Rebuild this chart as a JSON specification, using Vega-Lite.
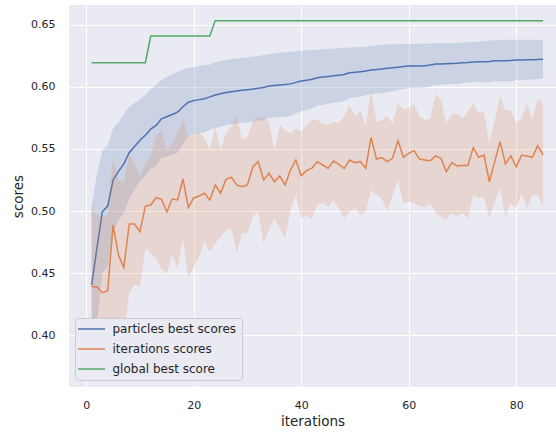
{
  "$schema": "https://vega.github.io/schema/vega-lite/v6.json",
  "autosize": {"type": "none"},
  "width": 487,
  "height": 382,
  "padding": {"left": 69, "top": 5, "right": 0, "bottom": 47},
  "background": "#ffffff",
  "config": {
    "view": {"fill": "#EAEAF2", "stroke": null},
    "font": "DejaVu Sans",
    "axis": {
      "domain": false,
      "ticks": false,
      "gridColor": "#ffffff",
      "gridWidth": 1,
      "gridOpacity": 1,
      "labelFont": "DejaVu Sans",
      "labelFontSize": 11,
      "labelColor": "#262626",
      "titleFont": "DejaVu Sans",
      "titleFontSize": 13.5,
      "titleFontWeight": "normal",
      "titleColor": "#262626"
    },
    "legend": {
      "orient": "none",
      "legendX": 6,
      "legendY": 313,
      "title": null,
      "fillColor": "#EAEAF2",
      "strokeColor": "#CCCCCC",
      "cornerRadius": 3,
      "padding": 5,
      "symbolType": "M-2.7,0H2.7",
      "symbolSize": 100,
      "symbolOffset": 5.5,
      "symbolStrokeWidth": 1.5,
      "labelFont": "DejaVu Sans",
      "labelFontSize": 12,
      "labelColor": "#262626",
      "labelOffset": 15,
      "rowPadding": 8
    }
  },
  "datasets": {
    "d": [
      {"i":1,"p":0.4403,"pl":0.372,"ph":0.5035,"o":0.439,"ol":0.366,"oh":0.5008,"g":0.6196},
      {"i":2,"p":0.470,"pl":0.41,"ph":0.53,"o":0.439,"ol":0.378,"oh":0.497,"g":0.6196},
      {"i":3,"p":0.4994,"pl":0.45,"ph":0.549,"o":0.4341,"ol":0.373,"oh":0.495,"g":0.6196},
      {"i":4,"p":0.504,"pl":0.455,"ph":0.553,"o":0.4357,"ol":0.374,"oh":0.497,"g":0.6196},
      {"i":5,"p":0.525,"pl":0.483,"ph":0.567,"o":0.4887,"ol":0.41,"oh":0.5438,"g":0.6196},
      {"i":6,"p":0.532,"pl":0.493,"ph":0.571,"o":0.4645,"ol":0.40,"oh":0.525,"g":0.6196},
      {"i":7,"p":0.538,"pl":0.498,"ph":0.578,"o":0.4543,"ol":0.40,"oh":0.5223,"g":0.6196},
      {"i":8,"p":0.547,"pl":0.51,"ph":0.584,"o":0.4895,"ol":0.434,"oh":0.5452,"g":0.6196},
      {"i":9,"p":0.552,"pl":0.517,"ph":0.587,"o":0.4895,"ol":0.4405,"oh":0.5385,"g":0.6196},
      {"i":10,"p":0.557,"pl":0.524,"ph":0.59,"o":0.4833,"ol":0.439,"oh":0.5277,"g":0.6196},
      {"i":11,"p":0.561,"pl":0.5285,"ph":0.5935,"o":0.504,"ol":0.4695,"oh":0.5385,"g":0.6196},
      {"i":12,"p":0.566,"pl":0.534,"ph":0.598,"o":0.5048,"ol":0.4658,"oh":0.5438,"g":0.6411},
      {"i":13,"p":0.569,"pl":0.536,"ph":0.602,"o":0.5107,"ol":0.4615,"oh":0.5599,"g":0.6411},
      {"i":14,"p":0.5743,"pl":0.543,"ph":0.6056,"o":0.5094,"ol":0.4535,"oh":0.5653,"g":0.6411},
      {"i":15,"p":0.576,"pl":0.544,"ph":0.608,"o":0.4994,"ol":0.4496,"oh":0.5492,"g":0.6411},
      {"i":16,"p":0.5778,"pl":0.5456,"ph":0.61,"o":0.5097,"ol":0.4648,"oh":0.5546,"g":0.6411},
      {"i":17,"p":0.5797,"pl":0.547,"ph":0.612,"o":0.5089,"ol":0.4538,"oh":0.564,"g":0.6411},
      {"i":18,"p":0.5841,"pl":0.554,"ph":0.614,"o":0.5258,"ol":0.4782,"oh":0.5734,"g":0.6411},
      {"i":19,"p":0.5877,"pl":0.56,"ph":0.6155,"o":0.503,"ol":0.4461,"oh":0.5599,"g":0.6411},
      {"i":20,"p":0.589,"pl":0.562,"ph":0.616,"o":0.5105,"ol":0.455,"oh":0.562,"g":0.6411},
      {"i":21,"p":0.5898,"pl":0.5626,"ph":0.617,"o":0.5121,"ol":0.4631,"oh":0.564,"g":0.6411},
      {"i":22,"p":0.5905,"pl":0.5633,"ph":0.6177,"o":0.5143,"ol":0.4753,"oh":0.5586,"g":0.6411},
      {"i":23,"p":0.592,"pl":0.5655,"ph":0.618,"o":0.5089,"ol":0.4672,"oh":0.5492,"g":0.6411},
      {"i":24,"p":0.5935,"pl":0.567,"ph":0.62,"o":0.521,"ol":0.4739,"oh":0.568,"g":0.6535},
      {"i":25,"p":0.5945,"pl":0.568,"ph":0.621,"o":0.5143,"ol":0.4793,"oh":0.5492,"g":0.6535},
      {"i":26,"p":0.5956,"pl":0.5694,"ph":0.6218,"o":0.5255,"ol":0.4847,"oh":0.5626,"g":0.6535},
      {"i":27,"p":0.5962,"pl":0.5699,"ph":0.6225,"o":0.5272,"ol":0.486,"oh":0.568,"g":0.6535},
      {"i":28,"p":0.5968,"pl":0.5706,"ph":0.623,"o":0.521,"ol":0.4659,"oh":0.5761,"g":0.6535},
      {"i":29,"p":0.5973,"pl":0.5711,"ph":0.6235,"o":0.5196,"ol":0.482,"oh":0.5573,"g":0.6535},
      {"i":30,"p":0.5978,"pl":0.5716,"ph":0.624,"o":0.521,"ol":0.482,"oh":0.5599,"g":0.6535},
      {"i":31,"p":0.5983,"pl":0.5721,"ph":0.6245,"o":0.5357,"ol":0.4954,"oh":0.572,"g":0.6535},
      {"i":32,"p":0.599,"pl":0.573,"ph":0.625,"o":0.5398,"ol":0.4995,"oh":0.5766,"g":0.6535},
      {"i":33,"p":0.5995,"pl":0.5732,"ph":0.6258,"o":0.525,"ol":0.4739,"oh":0.5747,"g":0.6535},
      {"i":34,"p":0.6008,"pl":0.575,"ph":0.6266,"o":0.5304,"ol":0.4847,"oh":0.572,"g":0.6535},
      {"i":35,"p":0.6012,"pl":0.5754,"ph":0.627,"o":0.5236,"ol":0.4941,"oh":0.5492,"g":0.6535},
      {"i":36,"p":0.6016,"pl":0.5757,"ph":0.6275,"o":0.5282,"ol":0.486,"oh":0.5694,"g":0.6535},
      {"i":37,"p":0.602,"pl":0.576,"ph":0.628,"o":0.521,"ol":0.478,"oh":0.5653,"g":0.6535},
      {"i":38,"p":0.6025,"pl":0.5766,"ph":0.6284,"o":0.5331,"ol":0.5008,"oh":0.5626,"g":0.6535},
      {"i":39,"p":0.6037,"pl":0.5786,"ph":0.6288,"o":0.5411,"ol":0.5129,"oh":0.5667,"g":0.6535},
      {"i":40,"p":0.6048,"pl":0.5804,"ph":0.6292,"o":0.5285,"ol":0.4941,"oh":0.564,"g":0.6535},
      {"i":41,"p":0.6055,"pl":0.5814,"ph":0.6296,"o":0.5325,"ol":0.4968,"oh":0.5694,"g":0.6535},
      {"i":42,"p":0.6062,"pl":0.5826,"ph":0.6298,"o":0.5346,"ol":0.4935,"oh":0.574,"g":0.6535},
      {"i":43,"p":0.6075,"pl":0.585,"ph":0.63,"o":0.5398,"ol":0.5048,"oh":0.5734,"g":0.6535},
      {"i":44,"p":0.608,"pl":0.5857,"ph":0.6303,"o":0.5371,"ol":0.5062,"oh":0.5707,"g":0.6535},
      {"i":45,"p":0.6085,"pl":0.5864,"ph":0.6306,"o":0.5344,"ol":0.5035,"oh":0.5694,"g":0.6535},
      {"i":46,"p":0.609,"pl":0.587,"ph":0.631,"o":0.5403,"ol":0.5089,"oh":0.572,"g":0.6535},
      {"i":47,"p":0.6095,"pl":0.5878,"ph":0.6312,"o":0.5376,"ol":0.5022,"oh":0.5712,"g":0.6535},
      {"i":48,"p":0.61,"pl":0.5885,"ph":0.6315,"o":0.5344,"ol":0.4941,"oh":0.5761,"g":0.6535},
      {"i":49,"p":0.6115,"pl":0.5912,"ph":0.6318,"o":0.5411,"ol":0.4995,"oh":0.5855,"g":0.6535},
      {"i":50,"p":0.6118,"pl":0.5916,"ph":0.632,"o":0.539,"ol":0.5022,"oh":0.5761,"g":0.6535},
      {"i":51,"p":0.6122,"pl":0.5922,"ph":0.6322,"o":0.5398,"ol":0.4968,"oh":0.5815,"g":0.6535},
      {"i":52,"p":0.6129,"pl":0.5933,"ph":0.6325,"o":0.5344,"ol":0.4995,"oh":0.568,"g":0.6535},
      {"i":53,"p":0.6137,"pl":0.5944,"ph":0.633,"o":0.5594,"ol":0.5169,"oh":0.5976,"g":0.6535},
      {"i":54,"p":0.614,"pl":0.5945,"ph":0.6335,"o":0.5419,"ol":0.5129,"oh":0.572,"g":0.6535},
      {"i":55,"p":0.6145,"pl":0.595,"ph":0.634,"o":0.543,"ol":0.5102,"oh":0.5734,"g":0.6535},
      {"i":56,"p":0.6151,"pl":0.596,"ph":0.6342,"o":0.5398,"ol":0.4995,"oh":0.5766,"g":0.6535},
      {"i":57,"p":0.6155,"pl":0.5966,"ph":0.6344,"o":0.5425,"ol":0.5129,"oh":0.5707,"g":0.6535},
      {"i":58,"p":0.616,"pl":0.5975,"ph":0.6345,"o":0.5567,"ol":0.525,"oh":0.5863,"g":0.6535},
      {"i":59,"p":0.6165,"pl":0.5984,"ph":0.6346,"o":0.5433,"ol":0.5062,"oh":0.582,"g":0.6535},
      {"i":60,"p":0.6169,"pl":0.5991,"ph":0.6347,"o":0.5465,"ol":0.5075,"oh":0.5828,"g":0.6535},
      {"i":61,"p":0.617,"pl":0.5992,"ph":0.6348,"o":0.5487,"ol":0.5062,"oh":0.5863,"g":0.6535},
      {"i":62,"p":0.617,"pl":0.5991,"ph":0.6349,"o":0.5419,"ol":0.504,"oh":0.5761,"g":0.6535},
      {"i":63,"p":0.6172,"pl":0.5994,"ph":0.635,"o":0.5411,"ol":0.503,"oh":0.5734,"g":0.6535},
      {"i":64,"p":0.6178,"pl":0.6005,"ph":0.6351,"o":0.5405,"ol":0.5062,"oh":0.5747,"g":0.6535},
      {"i":65,"p":0.6185,"pl":0.6018,"ph":0.6352,"o":0.5444,"ol":0.4981,"oh":0.5944,"g":0.6535},
      {"i":66,"p":0.6186,"pl":0.6019,"ph":0.6353,"o":0.5425,"ol":0.4954,"oh":0.5895,"g":0.6535},
      {"i":67,"p":0.6188,"pl":0.6022,"ph":0.6354,"o":0.5317,"ol":0.4927,"oh":0.5712,"g":0.6535},
      {"i":68,"p":0.619,"pl":0.6025,"ph":0.6355,"o":0.539,"ol":0.4981,"oh":0.578,"g":0.6535},
      {"i":69,"p":0.6191,"pl":0.6025,"ph":0.6357,"o":0.5363,"ol":0.4954,"oh":0.5788,"g":0.6535},
      {"i":70,"p":0.6195,"pl":0.6032,"ph":0.6358,"o":0.5366,"ol":0.4981,"oh":0.5747,"g":0.6535},
      {"i":71,"p":0.6198,"pl":0.6036,"ph":0.636,"o":0.5366,"ol":0.4941,"oh":0.5801,"g":0.6535},
      {"i":72,"p":0.6202,"pl":0.6042,"ph":0.6362,"o":0.5511,"ol":0.5129,"oh":0.5873,"g":0.6535},
      {"i":73,"p":0.6203,"pl":0.6041,"ph":0.6365,"o":0.5433,"ol":0.5102,"oh":0.5788,"g":0.6535},
      {"i":74,"p":0.6204,"pl":0.6038,"ph":0.637,"o":0.5452,"ol":0.5115,"oh":0.5801,"g":0.6535},
      {"i":75,"p":0.6205,"pl":0.6037,"ph":0.6373,"o":0.5236,"ol":0.4941,"oh":0.5546,"g":0.6535},
      {"i":76,"p":0.6212,"pl":0.6048,"ph":0.6376,"o":0.5398,"ol":0.5075,"oh":0.5734,"g":0.6535},
      {"i":77,"p":0.6212,"pl":0.6045,"ph":0.6379,"o":0.5559,"ol":0.5183,"oh":0.5927,"g":0.6535},
      {"i":78,"p":0.6212,"pl":0.6044,"ph":0.638,"o":0.5379,"ol":0.4954,"oh":0.5815,"g":0.6535},
      {"i":79,"p":0.6213,"pl":0.6046,"ph":0.638,"o":0.5444,"ol":0.5062,"oh":0.5815,"g":0.6535},
      {"i":80,"p":0.6218,"pl":0.6056,"ph":0.638,"o":0.5357,"ol":0.5022,"oh":0.5707,"g":0.6535},
      {"i":81,"p":0.6218,"pl":0.6056,"ph":0.638,"o":0.5449,"ol":0.5142,"oh":0.5747,"g":0.6535},
      {"i":82,"p":0.6219,"pl":0.6058,"ph":0.638,"o":0.5444,"ol":0.5022,"oh":0.5868,"g":0.6535},
      {"i":83,"p":0.622,"pl":0.606,"ph":0.638,"o":0.5433,"ol":0.5129,"oh":0.5734,"g":0.6535},
      {"i":84,"p":0.6222,"pl":0.6064,"ph":0.638,"o":0.5527,"ol":0.5129,"oh":0.5909,"g":0.6535},
      {"i":85,"p":0.6223,"pl":0.6066,"ph":0.638,"o":0.5452,"ol":0.5035,"oh":0.5868,"g":0.6535}
    ]
  },
  "data": {"name": "d"},
  "encoding": {
    "x": {
      "field": "i",
      "type": "quantitative",
      "title": "iterations",
      "scale": {"domain": [-3.2, 87.4], "nice": false, "zero": false},
      "axis": {"values": [0, 20, 40, 60, 80], "format": "d", "labelPadding": 12, "titlePadding": 4, "grid": true}
    }
  },
  "layer": [
    {
      "mark": {"type": "area", "color": "#4C72B0", "opacity": 0.2, "clip": true},
      "encoding": {
        "y": {
          "field": "pl",
          "type": "quantitative",
          "title": "scores",
          "scale": {"domain": [0.3581, 0.6661], "nice": false, "zero": false},
          "axis": {"values": [0.4, 0.45, 0.5, 0.55, 0.6, 0.65], "format": ".2f", "labelPadding": 14, "titlePadding": 5, "grid": true}
        },
        "y2": {"field": "ph"}
      }
    },
    {
      "mark": {"type": "line", "strokeWidth": 1.5, "clip": true},
      "encoding": {
        "y": {"field": "p", "type": "quantitative"},
        "color": {
          "datum": "particles best scores",
          "type": "nominal",
          "scale": {
            "domain": ["particles best scores", "iterations scores", "global best score"],
            "range": ["#4C72B0", "#DD8452", "#55A868"]
          }
        }
      }
    },
    {
      "mark": {"type": "area", "color": "#DD8452", "opacity": 0.2, "clip": true},
      "encoding": {
        "y": {"field": "ol", "type": "quantitative"},
        "y2": {"field": "oh"}
      }
    },
    {
      "mark": {"type": "line", "strokeWidth": 1.5, "clip": true},
      "encoding": {
        "y": {"field": "o", "type": "quantitative"},
        "color": {"datum": "iterations scores", "type": "nominal"}
      }
    },
    {
      "mark": {"type": "line", "strokeWidth": 1.5, "clip": true},
      "encoding": {
        "y": {"field": "g", "type": "quantitative"},
        "color": {"datum": "global best score", "type": "nominal"}
      }
    }
  ]
}
